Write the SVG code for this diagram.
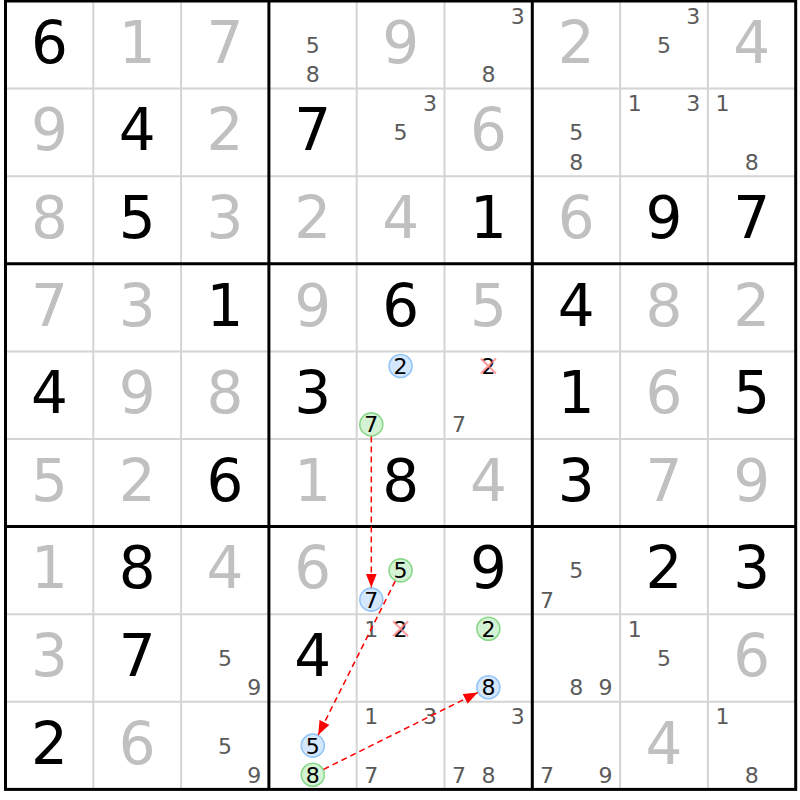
<svg xmlns="http://www.w3.org/2000/svg" width="800" height="800" viewBox="0 0 800 800">
<style>
.thin{stroke:#d4d4d4;stroke-width:2;fill:none}
.thick{stroke:#000;stroke-width:3;fill:none}
.g{font-family:"DejaVu Sans","Verdana",sans-serif;font-size:58px;text-anchor:middle;fill:#000}
.s{font-family:"DejaVu Sans","Verdana",sans-serif;font-size:58px;text-anchor:middle;fill:#c0c0c0}
.c{font-family:"DejaVu Sans","Verdana",sans-serif;font-size:22px;text-anchor:middle;fill:#5a5a5a}
.h{font-family:"DejaVu Sans","Verdana",sans-serif;font-size:22px;text-anchor:middle;fill:#000}
.cb{fill:#d4e7fc;stroke:#93c5f7;stroke-width:1.6}
.cg{fill:#d4f2d4;stroke:#8ad88a;stroke-width:1.6}
.x{stroke:#ff7f7f;stroke-width:2.2;opacity:0.75}
.arr{stroke:#ff0000;stroke-width:1.5;stroke-dasharray:6,4;fill:none;marker-end:url(#ah)}
</style>
<defs>
<marker id="ah" markerUnits="userSpaceOnUse" markerWidth="14" markerHeight="11" refX="14" refY="5.5" orient="auto">
<path d="M0,0 L14,5.5 L0,11 z" fill="#ff0000"/>
</marker>
</defs>
<rect x="0" y="0" width="800" height="800" fill="#fff"/>
<g id="grid">
<path class="thin" d="M93.3,1V789.4M181.1,1V789.4M356.7,1V789.4M444.5,1V789.4M620.1,1V789.4M707.9,1V789.4M5.5,88.6H795.7M5.5,176.2H795.7M5.5,351.4H795.7M5.5,439H795.7M5.5,614.2H795.7M5.5,701.8H795.7"/>
<path class="thick" d="M268.9,1V789.4M532.3,1V789.4M5.5,263.8H795.7M5.5,526.6H795.7"/>
<rect class="thick" x="5.5" y="1" width="790.2" height="788.4"/>
</g>
<g id="givens">
<text class="g" x="49.4" y="62.8">6</text>
<text class="g" x="137.2" y="150.4">4</text>
<text class="g" x="312.8" y="150.4">7</text>
<text class="g" x="137.2" y="238">5</text>
<text class="g" x="488.4" y="238">1</text>
<text class="g" x="664" y="238">9</text>
<text class="g" x="751.8" y="238">7</text>
<text class="g" x="225" y="325.6">1</text>
<text class="g" x="400.6" y="325.6">6</text>
<text class="g" x="576.2" y="325.6">4</text>
<text class="g" x="49.4" y="413.2">4</text>
<text class="g" x="312.8" y="413.2">3</text>
<text class="g" x="576.2" y="413.2">1</text>
<text class="g" x="751.8" y="413.2">5</text>
<text class="g" x="225" y="500.8">6</text>
<text class="g" x="400.6" y="500.8">8</text>
<text class="g" x="576.2" y="500.8">3</text>
<text class="g" x="137.2" y="588.4">8</text>
<text class="g" x="488.4" y="588.4">9</text>
<text class="g" x="664" y="588.4">2</text>
<text class="g" x="751.8" y="588.4">3</text>
<text class="g" x="137.2" y="676">7</text>
<text class="g" x="312.8" y="676">4</text>
<text class="g" x="49.4" y="763.6">2</text>
</g>
<g id="solved">
<text class="s" x="137.2" y="62.8">1</text>
<text class="s" x="225" y="62.8">7</text>
<text class="s" x="400.6" y="62.8">9</text>
<text class="s" x="576.2" y="62.8">2</text>
<text class="s" x="751.8" y="62.8">4</text>
<text class="s" x="49.4" y="150.4">9</text>
<text class="s" x="225" y="150.4">2</text>
<text class="s" x="488.4" y="150.4">6</text>
<text class="s" x="49.4" y="238">8</text>
<text class="s" x="225" y="238">3</text>
<text class="s" x="312.8" y="238">2</text>
<text class="s" x="400.6" y="238">4</text>
<text class="s" x="576.2" y="238">6</text>
<text class="s" x="49.4" y="325.6">7</text>
<text class="s" x="137.2" y="325.6">3</text>
<text class="s" x="312.8" y="325.6">9</text>
<text class="s" x="488.4" y="325.6">5</text>
<text class="s" x="664" y="325.6">8</text>
<text class="s" x="751.8" y="325.6">2</text>
<text class="s" x="137.2" y="413.2">9</text>
<text class="s" x="225" y="413.2">8</text>
<text class="s" x="664" y="413.2">6</text>
<text class="s" x="49.4" y="500.8">5</text>
<text class="s" x="137.2" y="500.8">2</text>
<text class="s" x="312.8" y="500.8">1</text>
<text class="s" x="488.4" y="500.8">4</text>
<text class="s" x="664" y="500.8">7</text>
<text class="s" x="751.8" y="500.8">9</text>
<text class="s" x="49.4" y="588.4">1</text>
<text class="s" x="225" y="588.4">4</text>
<text class="s" x="312.8" y="588.4">6</text>
<text class="s" x="49.4" y="676">3</text>
<text class="s" x="751.8" y="676">6</text>
<text class="s" x="137.2" y="763.6">6</text>
<text class="s" x="664" y="763.6">4</text>
</g>
<g id="candidates">
<g id="r0c3"><text class="c" x="312.8" y="52.8">5</text><text class="c" x="312.8" y="82">8</text></g>
<g id="r0c5"><text class="c" x="517.7" y="23.6">3</text><text class="c" x="488.4" y="82">8</text></g>
<g id="r0c7"><text class="c" x="693.3" y="23.6">3</text><text class="c" x="664" y="52.8">5</text></g>
<g id="r1c4"><text class="c" x="429.9" y="111.2">3</text><text class="c" x="400.6" y="140.4">5</text></g>
<g id="r1c6"><text class="c" x="576.2" y="140.4">5</text><text class="c" x="576.2" y="169.6">8</text></g>
<g id="r1c7"><text class="c" x="634.7" y="111.2">1</text><text class="c" x="693.3" y="111.2">3</text></g>
<g id="r1c8"><text class="c" x="722.5" y="111.2">1</text><text class="c" x="751.8" y="169.6">8</text></g>
<g id="r4c4"><circle class="cb" cx="400.6" cy="366" r="11.5"/><text class="h" x="400.6" y="374">2</text><circle class="cg" cx="371.3" cy="424.4" r="11.5"/><text class="h" x="371.3" y="432.4">7</text></g>
<g id="r4c5"><text class="h" x="488.4" y="374">2</text><path class="x" d="M480.9,358.5L495.9,373.5M495.9,358.5L480.9,373.5"/><text class="c" x="459.1" y="432.4">7</text></g>
<g id="r6c4"><circle class="cg" cx="400.6" cy="570.4" r="11.5"/><text class="h" x="400.6" y="578.4">5</text><circle class="cb" cx="371.3" cy="599.6" r="11.5"/><text class="h" x="371.3" y="607.6">7</text></g>
<g id="r6c6"><text class="c" x="576.2" y="578.4">5</text><text class="c" x="546.9" y="607.6">7</text></g>
<g id="r7c2"><text class="c" x="225" y="666">5</text><text class="c" x="254.3" y="695.2">9</text></g>
<g id="r7c4"><text class="c" x="371.3" y="636.8">1</text><text class="h" x="400.6" y="636.8">2</text><path class="x" d="M393.1,621.3L408.1,636.3M408.1,621.3L393.1,636.3"/></g>
<g id="r7c5"><circle class="cg" cx="488.4" cy="628.8" r="11.5"/><text class="h" x="488.4" y="636.8">2</text><circle class="cb" cx="488.4" cy="687.2" r="11.5"/><text class="h" x="488.4" y="695.2">8</text></g>
<g id="r7c6"><text class="c" x="576.2" y="695.2">8</text><text class="c" x="605.5" y="695.2">9</text></g>
<g id="r7c7"><text class="c" x="634.7" y="636.8">1</text><text class="c" x="664" y="666">5</text></g>
<g id="r8c2"><text class="c" x="225" y="753.6">5</text><text class="c" x="254.3" y="782.8">9</text></g>
<g id="r8c3"><circle class="cb" cx="312.8" cy="745.6" r="11.5"/><text class="h" x="312.8" y="753.6">5</text><circle class="cg" cx="312.8" cy="774.8" r="11.5"/><text class="h" x="312.8" y="782.8">8</text></g>
<g id="r8c4"><text class="c" x="371.3" y="724.4">1</text><text class="c" x="429.9" y="724.4">3</text><text class="c" x="371.3" y="782.8">7</text></g>
<g id="r8c5"><text class="c" x="517.7" y="724.4">3</text><text class="c" x="459.1" y="782.8">7</text><text class="c" x="488.4" y="782.8">8</text></g>
<g id="r8c6"><text class="c" x="546.9" y="782.8">7</text><text class="c" x="605.5" y="782.8">9</text></g>
<g id="r8c8"><text class="c" x="722.5" y="724.4">1</text><text class="c" x="751.8" y="782.8">8</text></g>
</g>
<g id="connectors">
<path class="arr" d="M371.3,436.4L371.3,587.6"/>
<path class="arr" d="M395.2,581.1L318.2,734.9"/>
<path class="arr" d="M323.5,769.4L477.7,692.6"/>
</g>
</svg>
